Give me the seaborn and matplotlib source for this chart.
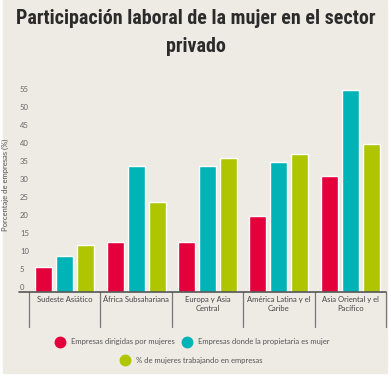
import pandas as pd
import matplotlib.pyplot as plt
import matplotlib.transforms as mtransforms
from matplotlib import font_manager
from matplotlib.lines import Line2D
from matplotlib.patches import Rectangle
import seaborn as sns

# data
regions = ["Sudeste Asiático", "África Subsahariana", "Europa y Asia\nCentral",
           "América Latina y el\nCaribe", "Asia Oriental y el\nPacífico"]
series = ["Empresas dirigidas por mujeres", "Empresas donde la propietaria es mujer",
          "% de mujeres trabajando en empresas"]
dirigidas = [6.8, 13.9, 13.9, 21.0, 32.1]
propietaria = [9.9, 34.9, 34.9, 36.0, 56.0]
trabajando = [12.9, 25.0, 37.0, 38.1, 40.9]
yticks = list(range(0, 56, 5))

colors = ["#E4003B", "#00B3B6", "#AEC500"]
bg = "#EDEBE4"

df = pd.DataFrame({
    "region": regions * 3,
    "serie": [series[0]] * 5 + [series[1]] * 5 + [series[2]] * 5,
    "valor": dirigidas + propietaria + trabajando,
})

sns.set_style("white")
plt.rcParams["font.family"] = ["Lato", "DejaVu Sans"]

# pick a narrow font for the title if one is installed
names = {f.name for f in font_manager.fontManager.ttflist}
title_font = {"family": ["DejaVu Sans"], "stretch": "condensed"}
for cand in ["Liberation Sans Narrow", "Roboto Condensed", "Open Sans Condensed"]:
    if cand in names:
        title_font = {"family": [cand, "DejaVu Sans"], "stretch": "normal"}
        break

fig = plt.figure(figsize=(3.91, 3.76), dpi=100, facecolor="white")
fig.patches.append(Rectangle((3 / 391, 3 / 376), 384 / 391, 373 / 376,
                             transform=fig.transFigure, color=bg, zorder=-10))

ax = fig.add_axes([29 / 391, 84 / 376, 357 / 391, 206 / 376])
ax.patch.set_alpha(0)

sns.barplot(data=df, x="region", y="valor", hue="serie", palette=colors,
            width=0.885, gap=0.19, saturation=1, legend=False, ax=ax)

ax.set_ylim(0, 57)
ax.set_xlim(-0.5, 4.5)
ax.set_yticks(yticks)
ax.set_yticklabels([str(t) for t in yticks])
ax.set_xlabel("")
ax.set_ylabel("Porcentaje de empresas (%)", fontsize=5.5, color="#555555")
ax.yaxis.set_label_coords(-20 / 357, 0.52)
for s in ax.spines.values():
    s.set_visible(False)

ax.tick_params(axis="y", length=0, pad=0, labelsize=5.5, labelcolor="#666666")
shift = mtransforms.ScaledTranslation(-9 / 100, 4.7 / 100, fig.dpi_scale_trans)
for lab in ax.get_yticklabels():
    lab.set_horizontalalignment("left")
    lab.set_transform(lab.get_transform() + shift)

ax.tick_params(axis="x", length=0, pad=3, labelsize=5.5, labelcolor="#444444")
for lab in ax.get_xticklabels():
    lab.set_linespacing(1.35)

# baseline and category separators
ax.axhline(0, xmin=-10 / 357, xmax=1, color="#555555", lw=1.2, clip_on=False, zorder=5)
sep = mtransforms.blended_transform_factory(ax.transData, ax.transAxes)
for i in range(len(regions) + 1):
    ax.plot([i - 0.5, i - 0.5], [0, -35 / 206], transform=sep, color="#777777",
            lw=0.9, clip_on=False)

title = fig.suptitle("Participación laboral de la mujer en el sector\nprivado",
                     x=0.5, y=1 - 9 / 376, va="top", fontsize=15, fontweight="bold",
                     family=title_font["family"], fontstretch=title_font["stretch"],
                     color="#2B2B2B", linespacing=1.6)
# fit the title to the reference width (~357 px)
fig.canvas.draw()
w = title.get_window_extent().width
title.set_fontsize(15 * 357 / w)

def dot(c):
    return Line2D([], [], marker="o", ls="", markersize=7.5, markerfacecolor=c,
                  markeredgecolor=c)

leg1 = fig.legend([dot(colors[0]), dot(colors[1])], series[:2], ncol=2,
                  loc="center", bbox_to_anchor=(0.493, 1 - 341.7 / 376), frameon=False,
                  fontsize=5.5, handletextpad=0.9, columnspacing=1.15, handlelength=1)
leg2 = fig.legend([dot(colors[2])], series[2:], loc="center",
                  bbox_to_anchor=(0.491, 1 - 360 / 376), frameon=False,
                  fontsize=5.5, handletextpad=0.9, handlelength=1)
for leg in (leg1, leg2):
    for t in leg.get_texts():
        t.set_color("#555555")

fig.savefig("out.png", dpi=100, facecolor="white")
